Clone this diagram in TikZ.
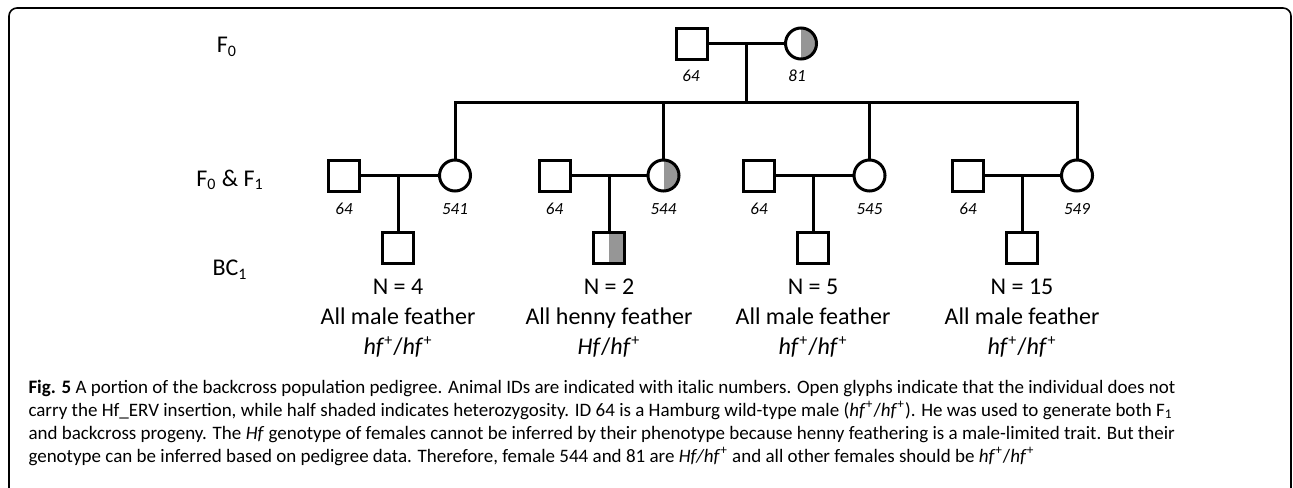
\documentclass[tikz,border=0pt]{standalone}
\usepackage{fontspec}
\setmainfont{Carlito}
\usetikzlibrary{positioning,calc}
\definecolor{halfgray}{RGB}{150,150,150}
\newcommand{\hfplus}{\textit{hf}\textsuperscript{+}}

\begin{document}
\begin{tikzpicture}[x=0.5pt,y=-0.5pt,line width=1.5pt,
  male/.style={draw,rectangle,minimum size=15.5pt,inner sep=0pt,fill=white},
  female/.style={draw,circle,minimum size=15.5pt,inner sep=0pt,fill=white},
  plain/.style={},
  carrier/.style={path picture={\fill[halfgray] (path picture bounding box.north) rectangle (path picture bounding box.south east);}},
  idtxt/.style={font=\fontsize{8.5}{10}\selectfont\itshape},
  gentxt/.style={font=\fontsize{12}{15}\selectfont,align=center},
  rowtxt/.style={font=\fontsize{12}{14}\selectfont},
  captxt/.style={font=\fontsize{9.5}{11.5}\selectfont,anchor=base west,inner sep=0pt}]
\useasboundingbox (0,0) rectangle (1293,487);
\draw[line width=0.8pt,rounded corners=4pt] (9,8) rectangle (1291,497);

% generation labels
\node[rowtxt] (g0) at (227,47) {F\textsubscript{0}};
\node[rowtxt] (g1) at (230,180) {F\textsubscript{0} \& F\textsubscript{1}};
\node[rowtxt] (g2) at (230,270) {BC\textsubscript{1}};

% founders
\node[male] (m0) at (691.5,43.5) {};
\node[female,carrier] (f0) at (801,43.5) {};
\node[idtxt] (idm0) at (691,76) {64};
\node[idtxt] (idf0) at (797,76) {81};
\draw (m0) -- (f0);
\coordinate (c0) at ($(m0)!0.5!(f0)$);
\coordinate (sib) at (0,102);

% four backcross families
\foreach \i/\mx/\fx/\cx/\fid/\n/\pheno/\geno/\shd in {
  1/344/455/398/541/4/male/{\hfplus/\hfplus}/plain,
  2/554.5/663.5/609/544/2/henny/{\textit{Hf}/\hfplus}/carrier,
  3/759/869.5/813/545/5/male/{\hfplus/\hfplus}/plain,
  4/968/1077/1022/549/15/male/{\hfplus/\hfplus}/plain}{
  \node[male] (m\i) at (\mx,175.5) {};
  \node[female,\shd] (f\i) at (\fx,175.5) {};
  \node[male,\shd] (k\i) at (\cx,248) {};
  \node[idtxt] (idm\i) at ($(m\i)+(0,33.5)$) {64};
  \node[idtxt] (idf\i) at ($(f\i)+(0,33.5)$) {\fid};
  \node[gentxt] (t\i) at (\cx,318) {N = \n\\All \pheno{} feather\\\geno};
  \draw (m\i) -- (f\i);
  \draw (k\i |- m\i) -- (k\i);
}

% sibship
\draw (c0) -- (c0 |- sib);
\draw (f1) -- (f1 |- sib) -- (f4 |- sib) -- (f4);
\draw (f2 |- sib) -- (f2);
\draw (f3 |- sib) -- (f3);

% caption
\node[captxt] (cap1) at (27,393) {\textbf{Fig. 5} A portion of the backcross population pedigree. Animal IDs are indicated with italic numbers. Open glyphs indicate that the individual does not};
\node[captxt] (cap2) at (27,416) {carry the Hf\_ERV insertion, while half shaded indicates heterozygosity. ID 64 is a Hamburg wild-type male (\hfplus/\hfplus). He was used to generate both F\textsubscript{1}};
\node[captxt] (cap3) at (27,439) {and backcross progeny. The \textit{Hf} genotype of females cannot be inferred by their phenotype because henny feathering is a male-limited trait. But their};
\node[captxt] (cap4) at (27,462) {genotype can be inferred based on pedigree data. Therefore, female 544 and 81 are \textit{Hf/hf}\textsuperscript{+} and all other females should be \hfplus/\hfplus};
\end{tikzpicture}
\end{document}
